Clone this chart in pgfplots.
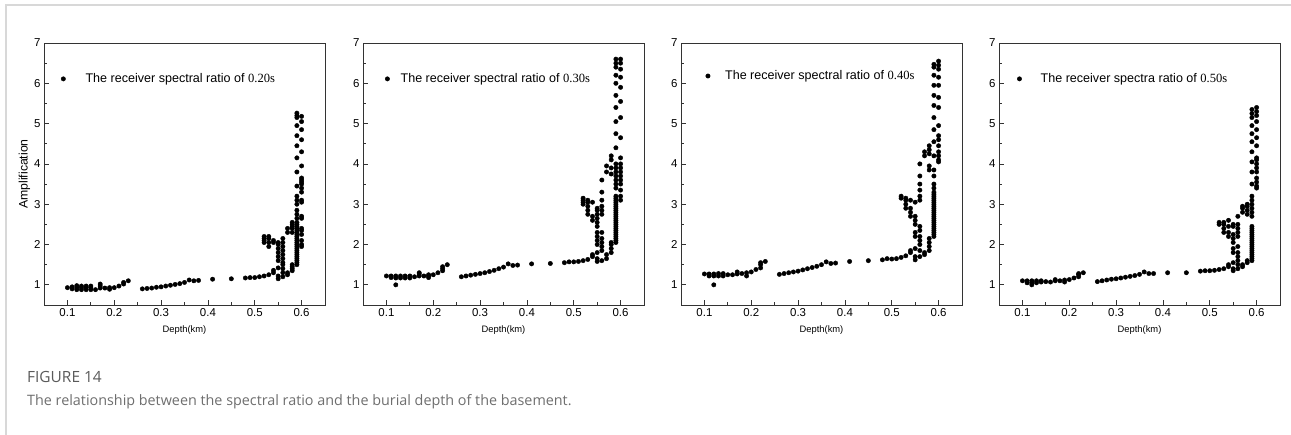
\documentclass[border=0pt]{standalone}
\usepackage{fontspec}
\setmainfont{Liberation Sans}
\newfontfamily\serifnum{Liberation Serif}
\newfontfamily\capfont{Open Sans}
\usepackage{pgfplots}
\pgfplotsset{compat=1.18}
\definecolor{axgray}{HTML}{333333}
\definecolor{capgray}{HTML}{5A5A5A}
\definecolor{capgray2}{HTML}{6E6E6E}
\definecolor{framegray}{HTML}{D8D8D8}
\pgfplotsset{
  panel/.style={
    scale only axis, width=281bp, height=262bp,
    xmin=0.05, xmax=0.65, ymin=0.5, ymax=7,
    xtick={0.1,0.2,0.3,0.4,0.5,0.6}, ytick={1,2,3,4,5,6,7},
    minor x tick num=1, minor y tick num=1,
    xtick pos=bottom, ytick pos=left, tick align=inside,
    major tick length=4.5bp, minor tick length=2.8bp,
    axis line style={axgray, line width=0.9bp},
    every tick/.style={axgray, line width=0.8bp},
    /pgf/number format/assume math mode=true,
    /pgf/number format/fixed, /pgf/number format/precision=1,
    tick label style={font=\fontsize{11.5}{13}\selectfont},
    xlabel={Depth(km)},
    xlabel style={font=\fontsize{9.4}{11}\selectfont, yshift=-2bp},
    legend cell align=left,
    legend image code/.code={\draw[#1] plot coordinates {(0bp,0bp)};},
    legend style={draw=none, fill=none, inner sep=0pt, outer sep=0pt,
      nodes={inner sep=0pt}, anchor=west,
      font=\fontsize{12.6}{15}\selectfont},
  },
  dots/.style={only marks, mark=*, mark size=2.2bp, black},
}
\begin{document}
\begin{tikzpicture}[x=1bp,y=1bp]
\path[use as bounding box] (0,0) rectangle (1291,435);
\draw[framegray, line width=1.5bp] (6,0) -- (6,430) -- (1291,430);

% ---------- Panel 1: 0.20 s ----------
\begin{axis}[panel, at={(44bp,130bp)}, anchor=south west,
  ylabel={Amplification}, ylabel style={font=\fontsize{12.3}{14}\selectfont, yshift=-3bp},
  legend style={at={(0.061,0.863)}}]
\addplot[dots] table {
0.10 0.93
0.11 0.90
0.11 0.95
0.12 0.88
0.12 0.93
0.12 0.98
0.13 0.88
0.13 0.93
0.13 0.97
0.14 0.88
0.14 0.93
0.14 0.97
0.15 0.88
0.15 0.93
0.15 0.97
0.16 0.88
0.17 0.92
0.17 0.97
0.17 1.02
0.18 0.92
0.19 0.89
0.19 0.93
0.20 0.93
0.21 0.97
0.22 1.02
0.22 1.06
0.23 1.10
0.26 0.90
0.27 0.91
0.28 0.92
0.29 0.94
0.30 0.95
0.31 0.97
0.32 0.99
0.33 1.01
0.34 1.03
0.35 1.06
0.36 1.12
0.37 1.10
0.38 1.11
0.41 1.14
0.45 1.15
0.48 1.17
0.49 1.18
0.50 1.18
0.51 1.20
0.52 1.22
0.53 1.25
0.54 1.30
0.54 1.36
0.55 1.15
0.55 1.22
0.55 1.42
0.52 2.05
0.52 2.10
0.52 2.15
0.52 2.20
0.53 1.95
0.53 2.05
0.53 2.15
0.53 2.20
0.54 2.05
0.54 2.10
0.55 1.60
0.55 1.70
0.55 1.80
0.55 1.90
0.55 2.00
0.55 2.05
0.56 1.20
0.56 1.30
0.56 1.40
0.56 1.50
0.56 1.55
0.56 1.65
0.56 1.75
0.56 1.85
0.56 1.95
0.56 2.05
0.56 2.15
0.57 1.25
0.57 1.30
0.57 2.30
0.57 2.40
0.58 1.35
0.58 1.40
0.58 1.45
0.58 1.50
0.58 2.30
0.58 2.40
0.58 2.45
0.58 2.50
0.58 2.55
0.59 1.50
0.59 1.55
0.59 1.60
0.59 1.65
0.59 1.70
0.59 1.75
0.59 1.80
0.59 1.85
0.59 1.90
0.59 1.95
0.59 2.00
0.59 2.05
0.59 2.10
0.59 2.15
0.59 2.20
0.59 2.25
0.59 2.30
0.59 2.35
0.59 2.40
0.59 2.45
0.59 2.50
0.59 2.55
0.59 2.65
0.59 2.75
0.59 2.85
0.59 3.00
0.59 3.10
0.59 3.20
0.59 3.45
0.59 3.80
0.59 4.15
0.59 4.45
0.59 4.70
0.59 4.95
0.59 5.15
0.59 5.20
0.59 5.26
0.60 1.95
0.60 2.00
0.60 2.10
0.60 2.25
0.60 2.35
0.60 2.40
0.60 2.65
0.60 2.70
0.60 3.05
0.60 3.10
0.60 3.30
0.60 3.40
0.60 3.50
0.60 3.55
0.60 3.60
0.60 3.65
0.60 3.95
0.60 4.30
0.60 4.60
0.60 4.85
0.60 5.05
0.60 5.18
};
\addlegendentry{\hspace{20bp}The receiver spectral ratio of {\serifnum 0.20s}}
\end{axis}

% ---------- Panel 2: 0.30 s ----------
\begin{axis}[panel, at={(363bp,130bp)}, anchor=south west,
  legend style={at={(0.079,0.863)}}]
\addplot[dots] table {
0.10 1.22
0.11 1.18
0.11 1.22
0.12 1.00
0.12 1.17
0.12 1.22
0.13 1.17
0.13 1.22
0.14 1.17
0.14 1.22
0.15 1.17
0.15 1.22
0.16 1.20
0.17 1.22
0.17 1.27
0.17 1.30
0.18 1.22
0.19 1.18
0.19 1.22
0.19 1.25
0.20 1.25
0.21 1.30
0.22 1.35
0.22 1.40
0.22 1.45
0.23 1.50
0.26 1.20
0.27 1.22
0.28 1.24
0.29 1.26
0.30 1.28
0.31 1.30
0.32 1.33
0.33 1.36
0.34 1.40
0.35 1.44
0.36 1.52
0.37 1.48
0.38 1.49
0.41 1.52
0.45 1.53
0.48 1.55
0.49 1.57
0.50 1.57
0.51 1.58
0.52 1.60
0.53 1.63
0.54 1.70
0.54 1.75
0.55 1.58
0.55 1.65
0.55 1.80
0.52 3.00
0.52 3.05
0.52 3.10
0.52 3.15
0.53 2.75
0.53 2.85
0.53 2.95
0.53 3.05
0.53 3.10
0.54 2.60
0.54 2.70
0.54 3.05
0.55 2.00
0.55 2.10
0.55 2.20
0.55 2.30
0.55 2.45
0.55 2.55
0.55 2.65
0.55 2.75
0.55 2.85
0.55 2.90
0.56 1.60
0.56 1.85
0.56 1.95
0.56 2.05
0.56 2.15
0.56 2.30
0.56 2.75
0.56 2.85
0.56 2.95
0.56 3.10
0.56 3.30
0.56 3.60
0.57 1.65
0.57 1.75
0.57 3.80
0.57 3.95
0.58 1.80
0.58 1.90
0.58 2.00
0.58 2.05
0.58 3.75
0.58 3.90
0.58 4.10
0.58 4.20
0.59 2.05
0.59 2.10
0.59 2.15
0.59 2.20
0.59 2.25
0.59 2.30
0.59 2.35
0.59 2.40
0.59 2.45
0.59 2.50
0.59 2.55
0.59 2.60
0.59 2.65
0.59 2.70
0.59 2.75
0.59 2.80
0.59 2.85
0.59 2.90
0.59 2.95
0.59 3.00
0.59 3.05
0.59 3.10
0.59 3.15
0.59 3.20
0.59 3.40
0.59 3.50
0.59 3.60
0.59 3.70
0.59 3.80
0.59 3.90
0.59 4.00
0.59 4.40
0.59 4.75
0.59 5.05
0.59 5.40
0.59 5.70
0.59 6.00
0.59 6.20
0.59 6.40
0.59 6.50
0.59 6.60
0.60 3.10
0.60 3.20
0.60 3.35
0.60 3.50
0.60 3.60
0.60 3.70
0.60 3.80
0.60 3.90
0.60 4.00
0.60 4.15
0.60 4.65
0.60 5.15
0.60 5.55
0.60 5.90
0.60 6.15
0.60 6.35
0.60 6.50
0.60 6.60
};
\addlegendentry{\hspace{11bp}The receiver spectral ratio of {\serifnum 0.30s}}
\end{axis}

% ---------- Panel 3: 0.40 s ----------
\begin{axis}[panel, at={(681bp,130bp)}, anchor=south west,
  legend style={at={(0.088,0.874)}}]
\addplot[dots] table {
0.10 1.27
0.11 1.22
0.11 1.27
0.12 1.00
0.12 1.22
0.12 1.27
0.13 1.22
0.13 1.28
0.14 1.22
0.14 1.28
0.15 1.25
0.16 1.25
0.17 1.27
0.17 1.32
0.18 1.28
0.19 1.22
0.19 1.30
0.20 1.32
0.21 1.38
0.22 1.42
0.22 1.50
0.22 1.55
0.23 1.58
0.26 1.26
0.27 1.28
0.28 1.30
0.29 1.32
0.30 1.34
0.31 1.37
0.32 1.40
0.33 1.43
0.34 1.46
0.35 1.50
0.36 1.57
0.37 1.53
0.38 1.54
0.41 1.58
0.45 1.60
0.48 1.62
0.49 1.65
0.50 1.64
0.51 1.65
0.52 1.68
0.53 1.72
0.54 1.80
0.54 1.85
0.55 1.62
0.55 1.70
0.55 1.90
0.52 3.15
0.52 3.20
0.53 2.90
0.53 3.00
0.53 3.10
0.53 3.15
0.54 2.70
0.54 2.80
0.54 2.90
0.54 3.10
0.55 2.20
0.55 2.30
0.55 2.50
0.55 2.60
0.55 2.70
0.55 3.05
0.56 1.70
0.56 1.85
0.56 2.00
0.56 2.10
0.56 2.20
0.56 2.35
0.56 2.45
0.56 3.10
0.56 3.20
0.56 3.35
0.56 3.50
0.56 3.70
0.56 4.00
0.57 1.75
0.57 1.80
0.57 4.20
0.57 4.30
0.58 1.85
0.58 1.95
0.58 2.05
0.58 2.15
0.58 3.85
0.58 3.95
0.58 4.25
0.58 4.35
0.58 4.45
0.59 2.20
0.59 2.25
0.59 2.30
0.59 2.35
0.59 2.40
0.59 2.45
0.59 2.50
0.59 2.55
0.59 2.60
0.59 2.65
0.59 2.70
0.59 2.75
0.59 2.80
0.59 2.85
0.59 2.90
0.59 2.95
0.59 3.00
0.59 3.05
0.59 3.10
0.59 3.15
0.59 3.20
0.59 3.25
0.59 3.30
0.59 3.40
0.59 3.50
0.59 3.70
0.59 3.85
0.59 4.20
0.59 4.55
0.59 4.85
0.59 5.15
0.59 5.45
0.59 5.70
0.59 5.95
0.59 6.20
0.59 6.40
0.59 6.47
0.60 4.05
0.60 4.10
0.60 4.20
0.60 4.30
0.60 4.45
0.60 4.60
0.60 4.70
0.60 4.95
0.60 5.40
0.60 5.65
0.60 5.95
0.60 6.15
0.60 6.35
0.60 6.45
0.60 6.55
};
\addlegendentry{\hspace{15bp}The receiver spectral ratio of {\serifnum 0.40s}}
\end{axis}

% ---------- Panel 4: 0.50 s ----------
\begin{axis}[panel, at={(999bp,130bp)}, anchor=south west,
  legend style={at={(0.065,0.863)}}]
\addplot[dots] table {
0.10 1.10
0.11 1.05
0.11 1.10
0.12 1.00
0.12 1.05
0.12 1.10
0.13 1.05
0.13 1.10
0.14 1.07
0.14 1.10
0.15 1.08
0.16 1.07
0.17 1.10
0.17 1.13
0.18 1.10
0.19 1.07
0.19 1.12
0.20 1.13
0.21 1.17
0.22 1.20
0.22 1.25
0.22 1.28
0.23 1.30
0.26 1.08
0.27 1.10
0.28 1.12
0.29 1.14
0.30 1.15
0.31 1.17
0.32 1.19
0.33 1.21
0.34 1.23
0.35 1.26
0.36 1.32
0.37 1.28
0.38 1.28
0.41 1.30
0.45 1.30
0.48 1.34
0.49 1.35
0.50 1.35
0.51 1.36
0.52 1.38
0.53 1.40
0.54 1.45
0.54 1.50
0.55 1.35
0.55 1.40
0.55 1.55
0.52 2.50
0.52 2.55
0.53 2.30
0.53 2.40
0.53 2.50
0.53 2.55
0.54 2.20
0.54 2.30
0.54 2.45
0.54 2.60
0.55 1.80
0.55 1.90
0.55 2.05
0.55 2.15
0.55 2.25
0.55 2.45
0.55 2.50
0.56 1.40
0.56 1.50
0.56 1.60
0.56 1.70
0.56 1.80
0.56 1.95
0.56 2.20
0.56 2.30
0.56 2.40
0.56 2.50
0.56 2.70
0.57 1.45
0.57 1.50
0.57 2.80
0.57 2.90
0.57 2.95
0.58 1.55
0.58 1.60
0.58 2.75
0.58 2.85
0.58 2.95
0.58 3.00
0.59 1.60
0.59 1.65
0.59 1.70
0.59 1.75
0.59 1.80
0.59 1.85
0.59 1.90
0.59 1.95
0.59 2.00
0.59 2.05
0.59 2.10
0.59 2.15
0.59 2.20
0.59 2.25
0.59 2.30
0.59 2.35
0.59 2.40
0.59 2.45
0.59 2.70
0.59 2.80
0.59 2.90
0.59 3.00
0.59 3.10
0.59 3.20
0.59 3.50
0.59 3.80
0.59 4.05
0.59 4.30
0.59 4.55
0.59 4.75
0.59 4.95
0.59 5.15
0.59 5.25
0.59 5.35
0.60 3.40
0.60 3.45
0.60 3.55
0.60 3.65
0.60 3.80
0.60 3.90
0.60 4.00
0.60 4.10
0.60 4.15
0.60 4.45
0.60 4.65
0.60 4.85
0.60 5.05
0.60 5.20
0.60 5.30
0.60 5.40
};
\addlegendentry{\hspace{19bp}The receiver spectra ratio of {\serifnum 0.50s}}
\end{axis}

\node[anchor=base west, inner sep=0pt, text=capgray, font=\capfont\fontsize{15.5}{18}\selectfont] at (27,52) {FIGURE 14};
\node[anchor=base west, inner sep=0pt, text=capgray2, font=\capfont\fontsize{14.4}{16}\selectfont] at (27,29) {The relationship between the spectral ratio and the burial depth of the basement.};
\end{tikzpicture}
\end{document}
